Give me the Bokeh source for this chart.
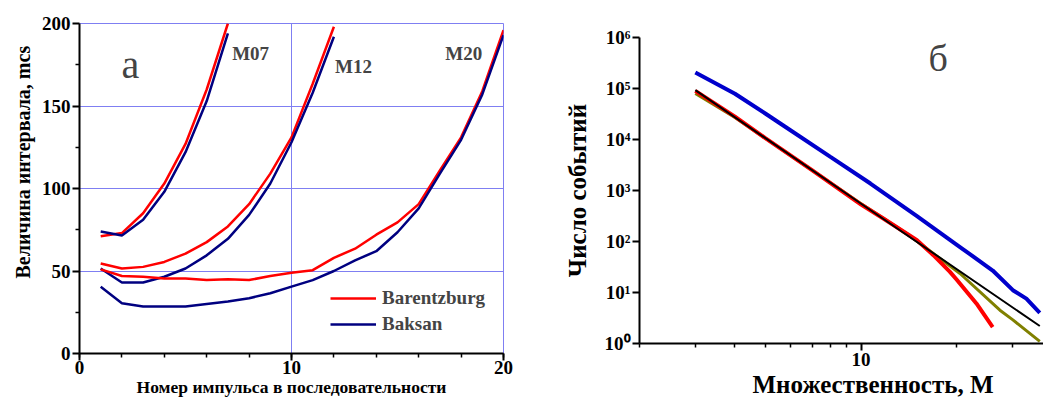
from bokeh.plotting import figure
from bokeh.models import (FixedTicker, Legend, LegendItem, Label, Range1d, Title,
                          CustomJSTickFormatter)
from bokeh.layouts import row
from bokeh.embed import file_html
from bokeh.resources import INLINE

SERIF = "Liberation Serif"

# ---- panel (а): interval length vs pulse number ----
pulse_m07 = [1, 2, 3, 4, 5, 6, 7]
barentz_m07 = [71, 73, 85, 103, 127, 160, 200]
baksan_m07 = [74, 71.5, 81, 98, 122, 153, 194]

pulse_m12 = [1, 2, 3, 4, 5, 6, 7, 8, 9, 10, 11, 12]
barentz_m12 = [54.5, 51.5, 52.5, 55.5, 60.5, 67.5, 77, 90.5, 109, 131, 163.5, 198]
baksan_m12 = [51.5, 43, 43, 46.5, 51.5, 59.5, 69.5, 84, 103, 128, 158, 192]

pulse_m20 = [1, 2, 3, 4, 5, 6, 7, 8, 9, 10, 11, 12, 13, 14, 15, 16, 17, 18, 19, 20]
barentz_m20 = [51, 47, 46.5, 45.5, 45.5, 44.5, 45, 44.5, 47, 49, 50.5, 58, 63.5,
               72, 79.5, 90.5, 111, 131, 159, 196]
baksan_m20 = [40.5, 30.5, 28.5, 28.5, 28.5, 30, 31.5, 33.5, 36.5, 40.5, 44.5, 50,
              56.5, 62, 73.5, 88, 109, 129.5, 157, 193]

series_labels = ["M07", "M12", "M20"]
station_names = ["Barentzburg", "Baksan"]

# ---- panel (б): number of events vs multiplicity ----
mult_blue = [3, 4, 5, 5.56, 7.98, 10.7, 15, 20.5, 26, 30.1, 33.2, 36.6]
count_blue = [2.05e5, 7.9e4, 3.2e4, 2.06e4, 4.6e3, 1.37e3, 314, 78, 27, 11.1, 7.6, 4.0]

mult_red = [3, 4, 5, 7, 10, 11.75, 15, 16.9, 19.06, 20, 23.1, 26]
count_red = [9.0e4, 2.8e4, 1.05e4, 2.5e3, 530, 282, 106, 54, 25.4, 18, 6.1, 2.1]

mult_olive = [3, 4, 10, 14, 20.5, 27.4, 30.1, 36.6]
count_olive = [8.0e4, 2.7e4, 550, 140, 23.6, 4.5, 2.9, 1.1]

mult_black = [3, 10, 36.6]
count_black = [9.3e4, 550, 2.2]

GRID = "#7f7ff2"
RED = "#ff0000"
NAVY = "#000080"


def style_axis(ax, size):
    ax.axis_line_width = 2
    ax.axis_line_color = "black"
    ax.major_tick_line_width = 2
    ax.minor_tick_line_width = 1.5
    ax.major_tick_in = 0
    ax.major_tick_out = 7
    ax.minor_tick_in = 0
    ax.minor_tick_out = 4
    ax.major_label_standoff = 0
    ax.major_label_text_font = SERIF
    ax.major_label_text_font_style = "bold"
    ax.major_label_text_font_size = size
    ax.major_label_text_color = "black"
    ax.axis_label_standoff = 0
    ax.axis_label_text_font = SERIF
    ax.axis_label_text_font_style = "bold"
    ax.axis_label_text_color = "black"


left = figure(width=560, height=403, output_backend="svg", toolbar_location=None,
              x_range=Range1d(0, 20), y_range=Range1d(0, 200),
              min_border_left=79, min_border_right=57,
              min_border_top=23, min_border_bottom=50)
left.frame_align = False
left.outline_line_color = GRID
left.outline_line_width = 1

left.xaxis.ticker = FixedTicker(ticks=[0, 10, 20], minor_ticks=list(range(0, 21, 2)))
left.yaxis.ticker = FixedTicker(ticks=[0, 50, 100, 150, 200], minor_ticks=[25, 75, 125, 175])
style_axis(left.xaxis[0], "19px")
style_axis(left.yaxis[0], "19px")
left.yaxis.major_label_standoff = 2
left.add_layout(Title(text="Величина интервала, mcs", align="left", offset=75, standoff=10,
                      text_font=SERIF, text_font_style="bold", text_font_size="20px",
                      text_color="black"), "left")
left.xaxis.axis_label = "Номер импульса в последовательности"
left.xaxis.axis_label_text_font_size = "17.5px"
left.xgrid.grid_line_color = GRID
left.ygrid.grid_line_color = GRID
left.xgrid.grid_line_width = 1
left.ygrid.grid_line_width = 1

r_red = None
r_navy = None
for xs, yb, yk in [(pulse_m07, barentz_m07, baksan_m07),
                   (pulse_m12, barentz_m12, baksan_m12),
                   (pulse_m20, barentz_m20, baksan_m20)]:
    r_red = left.line(xs, yb, line_color=RED, line_width=2.5)
    r_navy = left.line(xs, yk, line_color=NAVY, line_width=2.5)

legend = Legend(items=[LegendItem(label=station_names[0], renderers=[r_red]),
                       LegendItem(label=station_names[1], renderers=[r_navy])],
                location=(251, 16), background_fill_alpha=0, border_line_color=None,
                padding=0, margin=0, spacing=0, label_height=26, glyph_height=26,
                glyph_width=46, label_standoff=6,
                label_text_font=SERIF, label_text_font_style="bold",
                label_text_font_size="19px")
left.add_layout(legend)

for txt, lx, ly in zip(series_labels, [7.2, 12.05, 17.25], [182, 174, 182]):
    left.add_layout(Label(x=lx, y=ly, text=txt, text_font=SERIF, text_font_style="bold",
                          text_font_size="19px", text_baseline="middle"))
left.add_layout(Label(x=2.4, y=175, text="а", text_font=SERIF, text_font_size="40px",
                      text_align="center", text_baseline="middle"))

right = figure(width=483, height=403, output_backend="svg", toolbar_location=None,
               x_axis_type="log", y_axis_type="log",
               x_range=Range1d(2, 37.6), y_range=Range1d(1, 1e6),
               min_border_left=78, min_border_right=0,
               min_border_top=37, min_border_bottom=60)
right.frame_align = False
right.outline_line_color = None
right.xgrid.grid_line_color = None
right.ygrid.grid_line_color = None
right.xaxis.ticker = FixedTicker(ticks=[10], minor_ticks=[2, 3, 4, 5, 6, 7, 8, 9, 20, 30])
right.yaxis.ticker = FixedTicker(ticks=[1, 10, 100, 1e3, 1e4, 1e5, 1e6], minor_ticks=[])
right.xaxis.formatter = CustomJSTickFormatter(code="return tick.toFixed(0);")
right.yaxis.formatter = CustomJSTickFormatter(code="""
const sup = ["\\u2070", "\\u00b9", "\\u00b2", "\\u00b3", "\\u2074", "\\u2075", "\\u2076"];
return "10" + sup[Math.round(Math.log10(tick))];
""")
style_axis(right.xaxis[0], "19px")
style_axis(right.yaxis[0], "19px")
right.xaxis.major_label_standoff = 2
right.yaxis.major_label_standoff = 2
right.yaxis.axis_label = "Число событий"
right.yaxis.axis_label_text_font_size = "25px"
right.yaxis.axis_label_standoff = 11
right.add_layout(Title(text="Множественность, М", align="left", offset=113, standoff=0,
                       text_font=SERIF, text_font_style="bold", text_font_size="25px",
                       text_color="black"), "below")

right.line(mult_blue, count_blue, line_color="#0000cc", line_width=4)
right.line(mult_olive, count_olive, line_color="#808000", line_width=3)
right.line(mult_red, count_red, line_color=RED, line_width=4)
right.line(mult_black, count_black, line_color="black", line_width=2)
right.add_layout(Label(x=17.5, y=3.9e5, text="б", text_font=SERIF, text_font_size="38px",
                       text_align="center", text_baseline="middle"))

layout = row(left, right, spacing=0)
open("out.html", "w").write(file_html(layout, INLINE))
